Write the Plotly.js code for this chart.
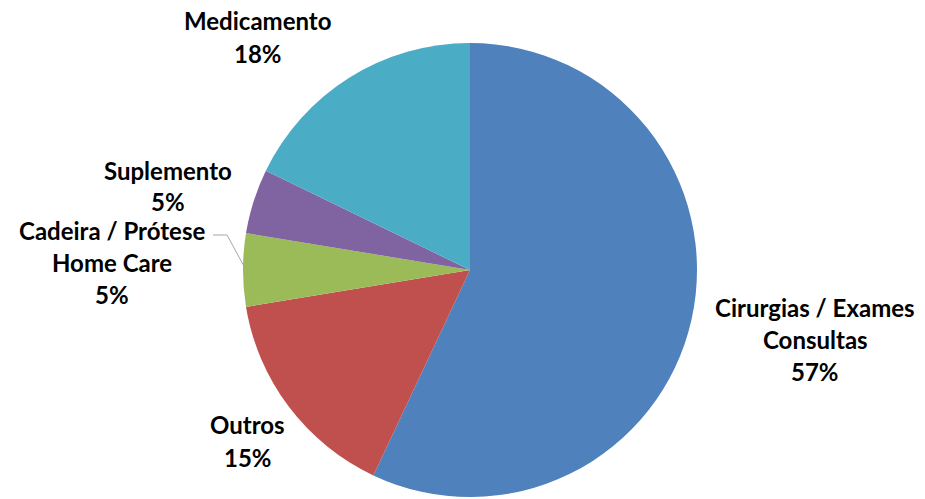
<!DOCTYPE html>
<html><head><meta charset="utf-8">
<script src="https://cdn.plot.ly/plotly-3.0.1.min.js"></script>
<style>html,body{margin:0;padding:0;background:#fff}#chart{width:925px;height:499px}</style>
</head><body><div id="chart"></div>
<script>
// Data
const labels = ["Cirurgias / Exames\nConsultas", "Outros", "Cadeira / Prótese\nHome Care", "Suplemento", "Medicamento"];
const values = [57.0, 15.4, 5.2, 4.6, 17.8];
const colors = ["#4F81BD", "#C0504D", "#9BBB59", "#8064A2", "#4BACC6"];
// Label anchor positions (pixel centre of first line) and line gaps
const labelPosX = [815, 248, 112, 168, 258];
const labelPosY = [307, 424, 230, 170, 20];
const labelGap = [32, 33, 32, 32, 33];

const W = 925, H = 499;
const cx = 470, cy = 270, r = 227;

const total = values.reduce((a, b) => a + b, 0);
const annotations = [];
labels.forEach((lab, i) => {
  const lines = lab.split("\n").concat([Math.round(values[i] / total * 100) + "%"]);
  lines.forEach((t, k) => {
    annotations.push({
      text: "<b>" + t + "</b>", showarrow: false,
      xref: "paper", yref: "paper",
      x: labelPosX[i] / W, y: 1 - (labelPosY[i] + k * labelGap[i]) / H,
      xanchor: "center", yanchor: "middle", borderpad: 0,
      font: {family: "Lato, 'Liberation Sans', sans-serif", size: 24, color: "#000"}
    });
  });
});

const shapes = [{
  type: "path", xref: "paper", yref: "paper",
  path: "M " + (213 / W) + " " + (1 - 235 / H) + " L " + (227 / W) + " " + (1 - 235 / H) + " L " + (245 / W) + " " + (1 - 268 / H),
  line: {color: "#A6A6A6", width: 1}
}];

Plotly.newPlot("chart", [{
  type: "pie", labels: labels.map(l => l.replace("\n", " ")), values: values,
  marker: {colors: colors, line: {color: "#FFFFFF", width: 0}},
  sort: false, direction: "clockwise", rotation: 0,
  textinfo: "none", hoverinfo: "label+percent",
  domain: {x: [(cx - r) / W, (cx + r) / W], y: [(H - cy - r) / H, (H - cy + r) / H]}
}], {
  width: W, height: H, margin: {l: 0, r: 0, t: 0, b: 0},
  showlegend: false, paper_bgcolor: "#fff",
  annotations: annotations, shapes: shapes
}, {displayModeBar: false, staticPlot: true});
</script></body></html>
